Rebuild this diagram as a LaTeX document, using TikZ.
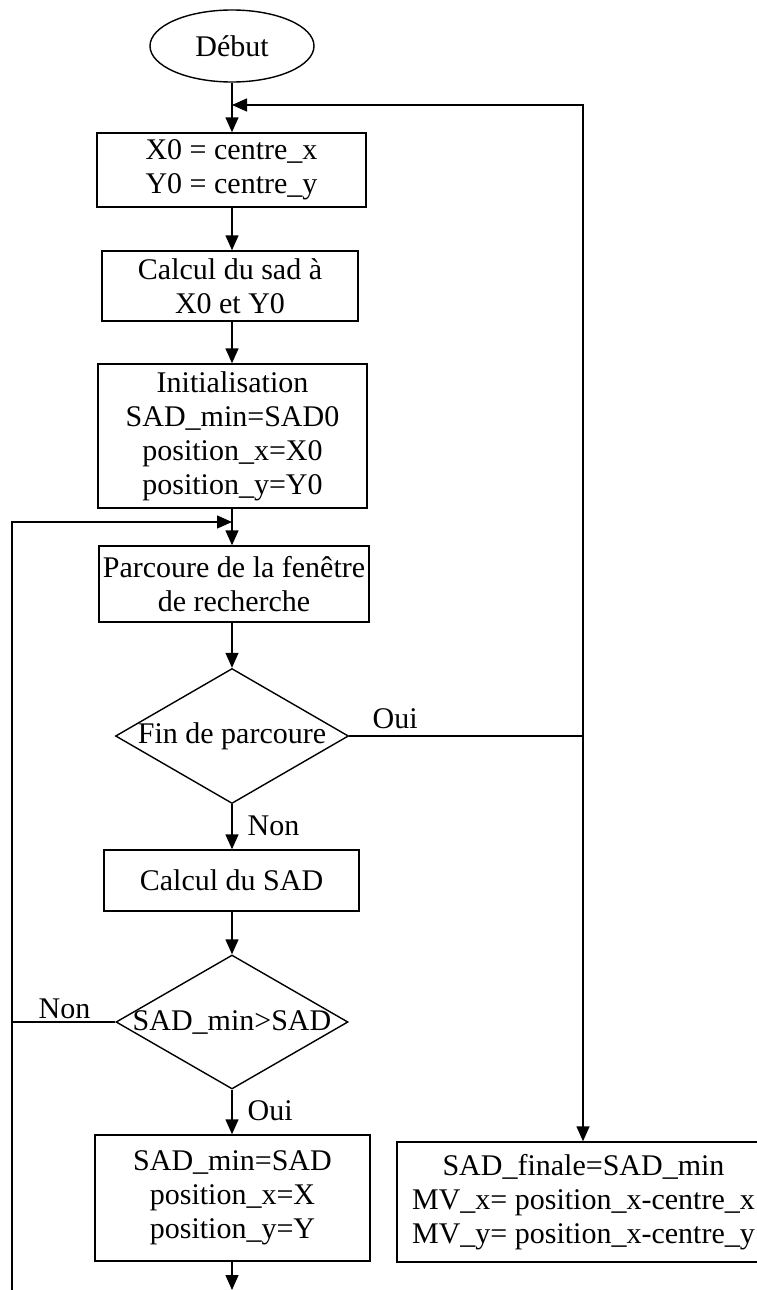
\documentclass[tikz,border=0pt]{standalone}
\usepackage{fontspec}
\setmainfont{Liberation Serif}
\usetikzlibrary{shapes.geometric,arrows.meta}
\begin{document}
\begin{tikzpicture}[x=1pt,y=-1pt,
  line width=1.4pt,
  every node/.style={font=\fontsize{30}{34}\selectfont},
  box/.style={draw, rectangle, align=center, inner sep=0pt},
  dia/.style={draw, diamond, inner sep=0pt},
  arr/.style={-{Triangle[length=15pt,width=13pt]}},
  lbl/.style={anchor=base west, inner sep=0pt}]
\useasboundingbox (0,0) rectangle (757,1290);
\clip (0,0) rectangle (757,1290);

\node[draw, ellipse, minimum width=164pt, minimum height=72pt, inner sep=0pt] (deb) at (232,46) {Début};
\node[box, minimum width=269pt, minimum height=74pt] (b1) at (231.5,170) {X0 = centre\_x\\Y0 = centre\_y};
\node[box, minimum width=256pt, minimum height=70pt] (b2) at (230,286) {Calcul du sad à\\X0 et Y0};
\node[box, minimum width=269pt, minimum height=144pt] (b3) at (232.5,436) {Initialisation\\SAD\_min=SAD0\\position\_x=X0\\position\_y=Y0};
\node[box, minimum width=270pt, minimum height=76pt] (b4) at (234,584) {Parcoure de la fenêtre\\de recherche};
\node[dia, minimum width=233pt, minimum height=135pt] (d1) at (232,736) {};
\node at (d1.center) {Fin de parcoure};
\node[box, minimum width=255pt, minimum height=61pt] (b5) at (231.5,880.5) {Calcul du SAD};
\node[dia, minimum width=232pt, minimum height=134pt] (d2) at (232,1022) {};
\node at (d2.center) {SAD\_min>SAD};
\node[box, minimum width=275pt, minimum height=126pt] (b6) at (232.5,1198) {SAD\_min=SAD\\position\_x=X\\position\_y=Y};
\node[box, minimum width=373pt, minimum height=120pt] (b7) at (583.5,1202) {SAD\_finale=SAD\_min\\MV\_x= position\_x-centre\_x\\MV\_y= position\_x-centre\_y};

\coordinate (jTop) at (232,105);
\coordinate (rTop) at (583,105);
\coordinate (rMid) at (583,736);
\coordinate (jLoop) at (232,522);
\coordinate (lTop) at (12,522);
\coordinate (lMid) at (12,1022);
\coordinate (lBot) at (12,1290);
\coordinate (bEnd) at (232,1290);

\draw[arr] (deb.south -| jTop) -- (b1.north -| jTop);
\draw[arr] (b1.south -| jTop) -- (b2.north -| jTop);
\draw[arr] (b2.south -| jTop) -- (b3.north -| jTop);
\draw[arr] (b3.south -| jTop) -- (b4.north -| jTop);
\draw[arr] (b4.south -| jTop) -- (d1.north);
\draw[arr] (d1.south) -- (b5.north -| jTop);
\draw[arr] (b5.south -| jTop) -- (d2.north);
\draw[arr] (d2.south) -- (b6.north -| jTop);
\draw[arr] (b6.south -| jTop) -- (bEnd);

\draw (d1.east) -- (rMid);
\draw[arr] (rMid) -- (rTop) -- (jTop);
\draw[arr] (rMid) -- (rMid |- b7.north);

\draw (d2.west) -- (lMid);
\draw[arr] (lBot) -- (lTop) -- (jLoop);

\node[lbl] at (372,728) {Oui};
\node[lbl] at (247,835) {Non};
\node[lbl] at (38,1018) {Non};
\node[lbl] at (247,1120) {Oui};
\end{tikzpicture}
\end{document}
